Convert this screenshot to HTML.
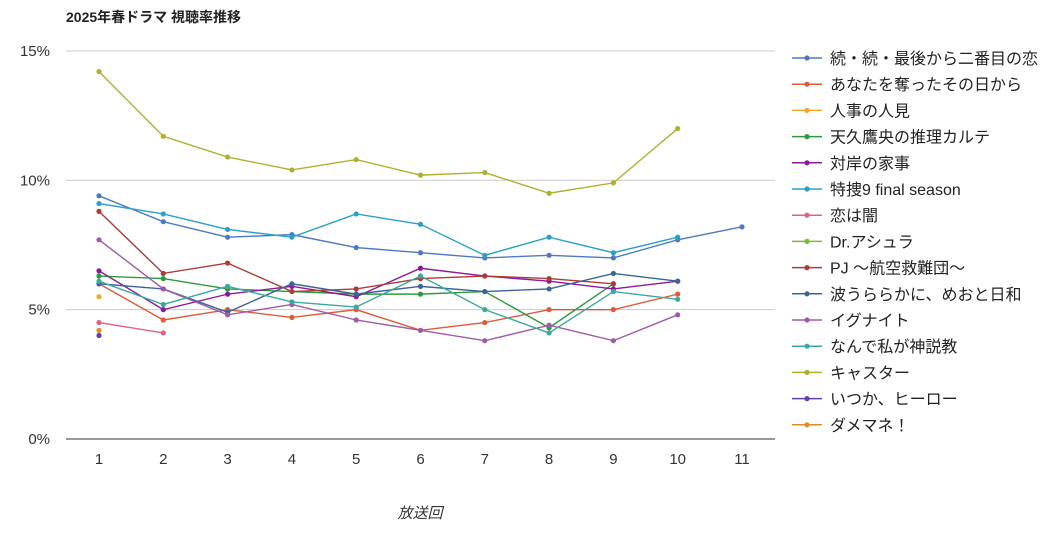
<!DOCTYPE html>
<html><head><meta charset="utf-8"><style>
body{margin:0;background:#fff;font-family:"Liberation Sans","Noto Sans CJK JP",sans-serif}
</style></head><body>
<svg id="c" width="1049" height="533" style="display:block">
<text x="66" y="22" font-size="14" font-weight="bold" fill="#222">2025年春ドラマ 視聴率推移</text>
<text x="420" y="518" font-size="15" font-style="italic" fill="#333" text-anchor="middle">放送回</text>
<g id="grid"></g><g id="series"></g><g id="legend"></g>
</svg>
<script>
const names=["続・続・最後から二番目の恋","あなたを奪ったその日から","人事の人見","天久鷹央の推理カルテ","対岸の家事","特捜9 final season","恋は闇","Dr.アシュラ","PJ ～航空救難団～","波うららかに、めおと日和","イグナイト","なんで私が神説教","キャスター","いつか、ヒーロー","ダメマネ！"];
const colors=["#4e79c0","#dd5a3a","#f0a830","#2e9a3e","#8b1a9a","#2aa0c8","#e0608a","#7cb83a","#b03a3a","#3c6496","#a05aa8","#3aaaa0","#b0b030","#6040b0","#e08a30"];
const episodes=[1,2,3,4,5,6,7,8,9,10,11];
const yTicks=[0,5,10,15];
const s1=[9.4,8.4,7.8,7.9,7.4,7.2,7.0,7.1,7.0,7.7,8.2];
const s2=[6.0,4.6,5.0,4.7,5.0,4.2,4.5,5.0,5.0,5.6];
const s3=[5.5];
const s4=[6.3,6.2,5.8,5.7,5.6,5.6,5.7,4.3,6.0];
const s5=[6.5,5.0,5.6,5.9,5.5,6.6,6.3,6.1,5.8,6.1];
const s6=[9.1,8.7,8.1,7.8,8.7,8.3,7.1,7.8,7.2,7.8];
const s7=[4.5,4.1];
const s8=[];
const s9=[8.8,6.4,6.8,5.7,5.8,6.2,6.3,6.2,6.0];
const s10=[6.0,5.8,4.9,6.0,5.6,5.9,5.7,5.8,6.4,6.1];
const s11=[7.7,5.8,4.8,5.2,4.6,4.2,3.8,4.4,3.8,4.8];
const s12=[6.1,5.2,5.9,5.3,5.1,6.3,5.0,4.1,5.7,5.4];
const s13=[14.2,11.7,10.9,10.4,10.8,10.2,10.3,9.5,9.9,12.0];
const s14=[4.0];
const s15=[4.2];
const series=[s1,s2,s3,s4,s5,s6,s7,s8,s9,s10,s11,s12,s13,s14,s15];
const NS="http://www.w3.org/2000/svg";
const X=e=>99+(e-1)*64.3, Y=v=>439-v*25.87;
function mk(t,p,a){const el=document.createElementNS(NS,t);for(const k in a)el.setAttribute(k,a[k]);p.appendChild(el);return el;}
const grid=document.getElementById('grid');
yTicks.forEach(t=>{
 const l=mk('line',grid,{x1:66,x2:775,y1:Y(t),y2:Y(t),stroke:t===0?'#333':'#ccc','stroke-width':1});
 
 
 const tx=mk('text',grid,{x:50,y:Y(t)+5,'font-size':15,fill:'#333','text-anchor':'end'});
 tx.textContent=t+'%';
 
 
});
episodes.forEach(e=>{
 const tx=mk('text',grid,{x:X(e),y:464,'font-size':15,fill:'#333','text-anchor':'middle'});
 tx.textContent=e;
 
 
});
const sg=document.getElementById('series');
series.forEach((d,i)=>{
 const g=mk('g',sg,{});
 
 
 if(d.length>1){
  const p=mk('polyline',g,{points:d.map((v,j)=>X(episodes[j])+','+Y(v)).join(' '),fill:'none',stroke:colors[i],'stroke-width':1.4});
  
  
 }
 d.forEach((v,j)=>{
  const c=mk('circle',g,{cx:X(episodes[j]),cy:Y(v),r:2.6,fill:colors[i]});
  
  
 });
});
const lg=document.getElementById('legend');
names.forEach((n,i)=>{
 const y=58+i*26.2;
 const g=mk('g',lg,{});
 
 
 mk('line',g,{x1:792,x2:822,y1:y,y2:y,stroke:colors[i],'stroke-width':1.5});
 mk('circle',g,{cx:807,cy:y,r:2.6,fill:colors[i]});
 const t=mk('text',g,{x:830,y:y+6,'font-size':16,fill:'#222'});
 t.textContent=n;
});
</script>
</body></html>
